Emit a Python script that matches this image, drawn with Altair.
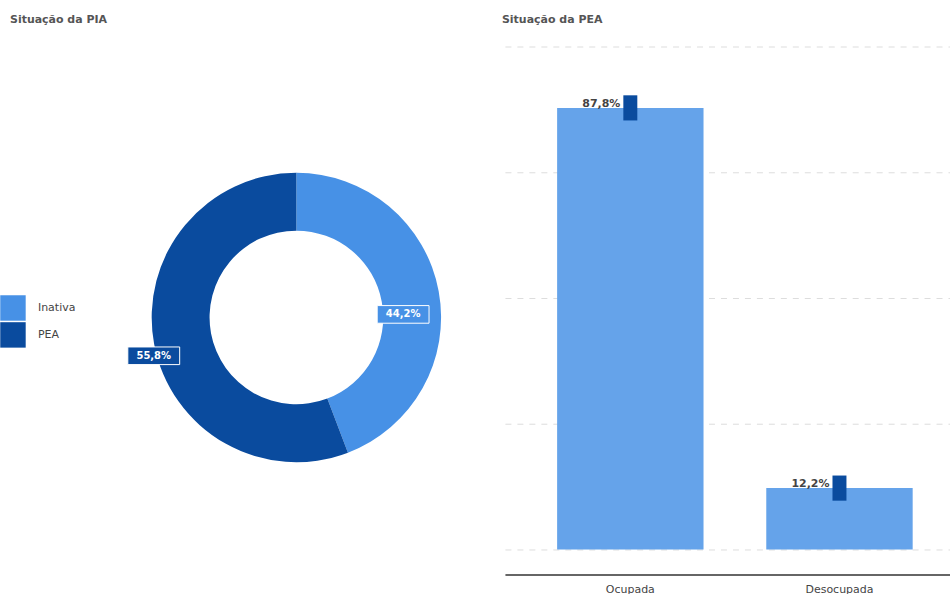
import altair as alt
import pandas as pd

# ---- data ----
pia_cats = ["Inativa", "PEA"]
pia_vals = [44.2, 55.8]

pea_cats = ["Ocupada", "Desocupada"]
pea_vals = [87.8, 12.2]
pea_low = [85.3, 9.7]
pea_high = [90.3, 14.7]

# ---- style ----
C_INAT = "#4791E6"
C_PEA = "#0A4B9E"
C_BAR = "#65A3EA"
C_ERR = "#0A4B9E"
FONT = "DejaVu Sans"
TXT = "#444444"

LW, LH = 394, 543          # left panel plot size
RW, RH = 446, 504          # right panel plot size

df_pia = pd.DataFrame({"cat": pia_cats, "value": pia_vals, "idx": range(len(pia_cats))})
df_pea = pd.DataFrame({"cat": pea_cats, "value": pea_vals, "low": pea_low, "high": pea_high})

color_scale = alt.Scale(domain=pia_cats, range=[C_INAT, C_PEA])

# label placement (angle shift in degrees, radius in px) – styling only
shift_expr = "datum.cat == 'Inativa' ? 8.8 : -4.6"
rad_expr = "datum.cat == 'Inativa' ? 107 : 148"

base_pia = alt.Chart(df_pia)

arc = base_pia.mark_arc(outerRadius=145, innerRadius=87).encode(
    theta=alt.Theta("value:Q", stack=True),
    color=alt.Color(
        "cat:N",
        scale=color_scale,
        legend=alt.Legend(
            title=None, orient="none", legendX=-100, legendY=249,
            symbolType="square", symbolSize=650, symbolStrokeWidth=0,
            rowPadding=1, labelFont=FONT, labelFontSize=11, labelColor=TXT,
            labelOffset=12, padding=0,
        ),
    ),
    order=alt.Order("idx:Q"),
)

lab_base = base_pia.transform_joinaggregate(
    total="sum(value)"
).transform_window(
    cum="sum(value)", frame=[None, 0], sort=[alt.SortField("idx")]
).transform_calculate(
    ang="((datum.cum - datum.value/2) / datum.total) * 2 * PI + (" + shift_expr + ") * PI / 180",
    r=rad_expr,
).transform_calculate(
    px="datum.r * sin(datum.ang)",
    py="datum.r * cos(datum.ang)",
    lbl="replace(format(datum.value, '.1f'), '.', ',') + '%'",
)

xs = alt.X("px:Q", scale=alt.Scale(domain=[-LW / 2, LW / 2], nice=False, zero=False), axis=None)
ys = alt.Y("py:Q", scale=alt.Scale(domain=[-LH / 2, LH / 2], nice=False, zero=False), axis=None)

badge = lab_base.mark_point(
    filled=True, shape="M-1,-0.34H1V0.34H-1Z", size=2700,
    stroke="white", strokeWidth=1, opacity=1,
).encode(x=xs, y=ys, fill=alt.Fill("cat:N", scale=color_scale, legend=None))

badge_txt = lab_base.mark_text(
    color="white", font=FONT, fontSize=10, fontWeight="bold", baseline="middle", align="center"
).encode(x=xs, y=ys, text="lbl:N")

left = alt.layer(arc, badge, badge_txt).resolve_scale(color="shared").properties(
    width=LW, height=LH,
    title=alt.TitleParams("Situação da PIA", anchor="start", frame="group", dx=-90, offset=22,
                          font=FONT, fontSize=11, fontWeight="bold", color="#555555"),
)

# ---- right panel ----
base_pea = alt.Chart(df_pea).transform_calculate(
    lbl="replace(format(datum.value, '.1f'), '.', ',') + '%'"
)
xb = alt.X(
    "cat:N", sort=pea_cats, title=None,
    scale=alt.Scale(paddingInner=0.3, paddingOuter=0.214, align=0.583),
    axis=alt.Axis(labelAngle=0, ticks=False, domainColor="#333333", domainWidth=1.5,
                  offset=25, labelPadding=9, labelFont=FONT, labelFontSize=11,
                  labelColor=TXT, grid=False),
)
yscale = alt.Scale(domain=[0, 100], nice=False)
bars = base_pea.mark_bar(color=C_BAR).encode(
    x=xb,
    y=alt.Y("value:Q", scale=yscale, title=None,
            axis=alt.Axis(values=[0, 25, 50, 75, 100], labels=False, ticks=False,
                          domain=False, grid=True, gridDash=[6, 6], gridColor="#dddddd")),
)
err = base_pea.mark_bar(color=C_ERR, size=14).encode(
    x=alt.X("cat:N", sort=pea_cats), y=alt.Y("low:Q", scale=yscale), y2="high:Q"
)
txt = base_pea.mark_text(
    align="right", baseline="bottom", dx=-10, dy=1, font=FONT, fontSize=11,
    fontWeight="bold", color=TXT,
).encode(x=alt.X("cat:N", sort=pea_cats), y=alt.Y("value:Q", scale=yscale), text="lbl:N")

right = alt.layer(bars, err, txt).properties(
    width=RW, height=RH,
    title=alt.TitleParams("Situação da PEA", anchor="start", frame="group", dx=-3, offset=22,
                          font=FONT, fontSize=11, fontWeight="bold", color="#555555"),
)

chart = alt.hconcat(left, right, spacing=9).resolve_scale(color="independent").properties(
    padding={"left": 0, "top": 13, "right": 0, "bottom": 0},
    background="white",
).configure_view(stroke=None)

chart.save("out.html", embed_options={"renderer": "svg", "actions": False})
